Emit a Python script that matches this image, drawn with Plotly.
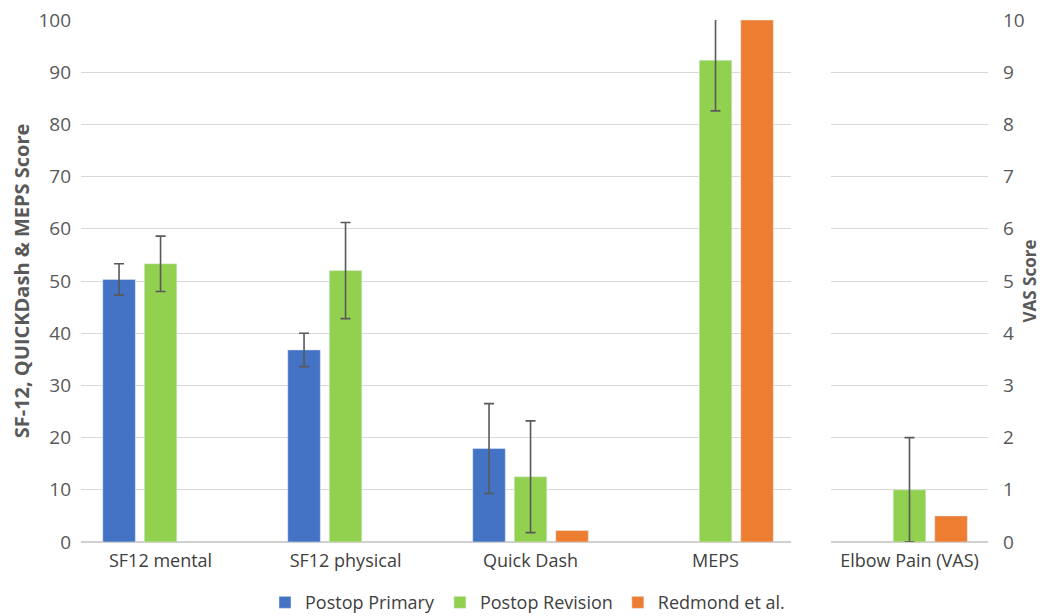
import plotly.graph_objects as go

categories = ["SF12 mental", "SF12 physical", "Quick Dash", "MEPS"]
primary = [50.3, 36.8, 17.9, None]
primary_err = [3.0, 3.2, 8.6, None]
revision = [53.3, 52.0, 12.5, 92.3]
revision_err = [5.3, 9.2, 10.7, 9.7]
redmond = [None, None, 2.2, 100]

vas_cat = ["Elbow Pain (VAS)"]
vas_revision = [1.0]
vas_revision_err = [1.0]
vas_redmond = [0.5]

BLUE = "#4472C4"
GREEN = "#92D050"
ORANGE = "#ED7D31"
ERR = "#595959"
FONT = "Open Sans"

bw = 0.176
slot = 0.2243
offs = [-1.5 * slot + (slot - bw) / 2 + i * slot for i in range(3)]

def eb(arr):
    return dict(type="data", array=arr, visible=True, color=ERR, thickness=1.6, width=5)

fig = go.Figure()
fig.add_trace(go.Bar(name="Postop Primary", x=categories, y=primary, marker_color=BLUE,
                     width=bw, offset=offs[0], error_y=eb(primary_err), xaxis="x", yaxis="y"))
fig.add_trace(go.Bar(name="Postop Revision", x=categories, y=revision, marker_color=GREEN,
                     width=bw, offset=offs[1], error_y=eb(revision_err), xaxis="x", yaxis="y"))
fig.add_trace(go.Bar(name="Redmond et al.", x=categories, y=redmond, marker_color=ORANGE,
                     width=bw, offset=offs[2], xaxis="x", yaxis="y"))
fig.add_trace(go.Bar(name="Postop Revision", x=vas_cat, y=vas_revision, marker_color=GREEN,
                     width=bw, offset=offs[1], error_y=eb(vas_revision_err), showlegend=False,
                     xaxis="x2", yaxis="y2"))
fig.add_trace(go.Bar(name="Redmond et al.", x=vas_cat, y=vas_redmond, marker_color=ORANGE,
                     width=bw, offset=offs[2], showlegend=False, xaxis="x2", yaxis="y2"))

tickfont = dict(family=FONT, size=18, color="#404040")
ytickfont = dict(family=FONT, size=19, color="#595959")
titlefont_l = dict(family=FONT, size=20, color="#595959", weight="bold")
titlefont_r = dict(family=FONT, size=17, color="#595959", weight="bold")

fig.update_layout(
    width=1039, height=608,
    margin=dict(l=73, r=59, t=12, b=74, autoexpand=False),
    paper_bgcolor="white", plot_bgcolor="white",
    barmode="group",
    font=dict(family=FONT, size=18, color="#404040"),
    xaxis=dict(domain=[0, 0.7828], range=[-0.43, 3.408], type="category",
               showgrid=False, showline=False, ticks="", tickfont=tickfont,
               anchor="y", ticklabelstandoff=6, automargin=False),
    xaxis2=dict(domain=[0.8269, 1], range=[-0.424, 0.424], type="category",
                showgrid=False, showline=False, ticks="", tickfont=tickfont,
                anchor="y2", ticklabelstandoff=6, automargin=False),
    yaxis=dict(range=[0, 100], dtick=10, showgrid=True, gridcolor="#D9D9D9", gridwidth=1.3,
               zeroline=True, zerolinecolor="#D0D0D0", zerolinewidth=1.5,
               tickfont=ytickfont, anchor="x", ticklabelstandoff=9, automargin=False,
               ticklabeloverflow="allow",
               title=dict(text="SF-12, QUICKDash & MEPS Score", font=titlefont_l, standoff=12)),
    yaxis2=dict(range=[0, 10], dtick=1, showgrid=True, gridcolor="#D9D9D9", gridwidth=1.3,
                zeroline=True, zerolinecolor="#D0D0D0", zerolinewidth=1.5,
                tickfont=ytickfont, anchor="x2", side="right", ticklabelstandoff=14,
                automargin=False, ticklabeloverflow="allow",
                title=dict(text="VAS Score", font=titlefont_r, standoff=0)),
    legend=dict(orientation="h", x=0.5, xanchor="center", xref="container",
                y=0.022, yanchor="middle", yref="container",
                font=dict(family=FONT, size=18, color="#404040"), itemwidth=30),
)

fig.write_html("out.html")
